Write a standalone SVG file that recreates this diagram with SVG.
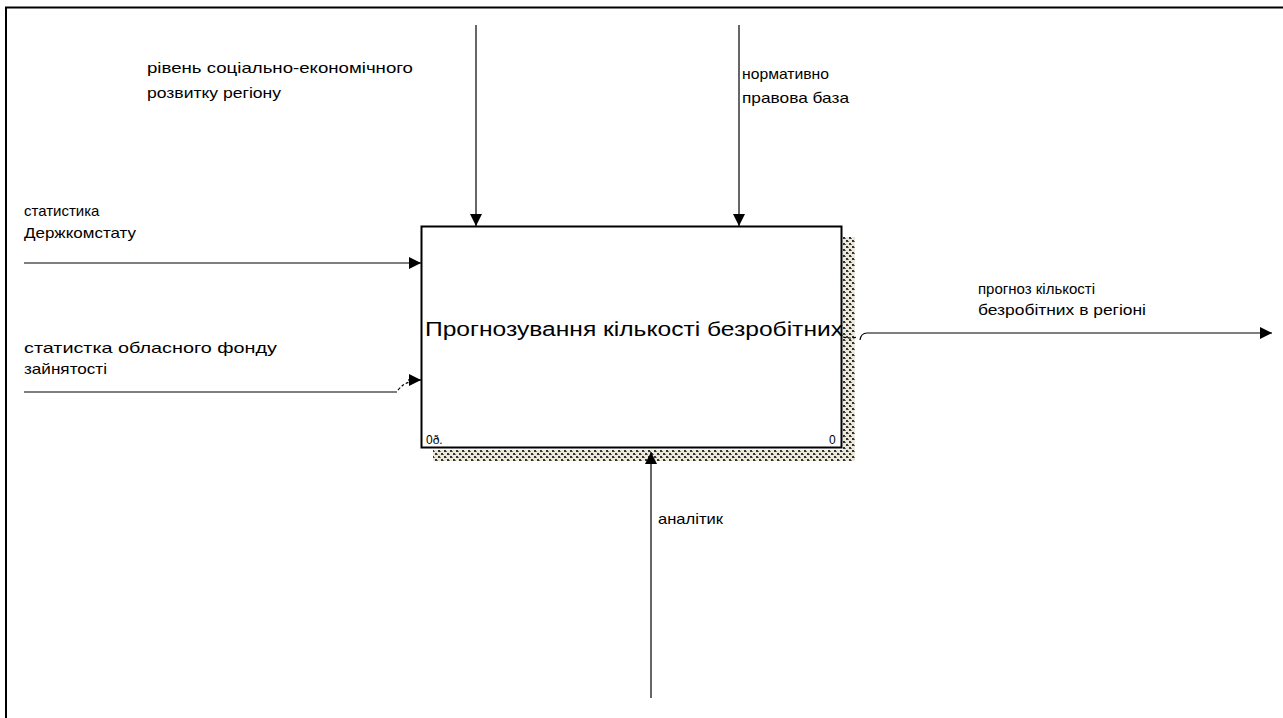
<svg xmlns="http://www.w3.org/2000/svg" width="1283" height="718" viewBox="0 0 1283 718">
  <style>
    .lbl { font-family: "Liberation Sans", Arial, sans-serif; font-size: 15px; fill: #000; }
    .ttl { font-family: "Liberation Sans", Arial, sans-serif; font-size: 20px; fill: #000; }
    .tag { font-family: "Liberation Sans", Arial, sans-serif; font-size: 12px; fill: #000; }
    .arc { stroke: #000; stroke-width: 1.2; fill: none; }
    .tun { stroke: #000; stroke-width: 1.2; fill: none; stroke-dasharray: 3 2; }
  </style>
  <defs>
    <pattern id="hatch" width="6" height="6" patternUnits="userSpaceOnUse">
      <rect width="6" height="6" fill="#ece8da"/>
      <rect x="0" y="0" width="2" height="2" fill="#333"/>
      <rect x="3" y="3" width="2" height="2" fill="#333"/>
      <rect x="2" y="1" width="1" height="1" fill="#777"/>
      <rect x="5" y="4" width="1" height="1" fill="#777"/>
    </pattern>
    <marker id="arrow" viewBox="0 0 10 10" refX="10" refY="5" markerWidth="12" markerHeight="12" markerUnits="userSpaceOnUse" orient="auto">
      <path d="M0,0 L10,5 L0,10 z" fill="#000"/>
    </marker>
  </defs>

  <rect width="1283" height="718" fill="#fff"/>
  <!-- page frame -->
  <path d="M6,718 V7.5 H1283" fill="none" stroke="#000" stroke-width="2"/>

  <!-- activity box -->
  <g id="node-a0">
    <rect x="843" y="237" width="12" height="224" fill="url(#hatch)"/>
    <rect x="433" y="450" width="422" height="11" fill="url(#hatch)"/>
    <rect x="421.5" y="226.5" width="420" height="221" fill="#fff" stroke="#000" stroke-width="2"/>
    <text class="ttl" x="425" y="336" textLength="418" lengthAdjust="spacingAndGlyphs">Прогнозування кількості безробітних</text>
    <text class="tag" x="426" y="444">0ð.</text>
    <text class="tag" x="829" y="444">0</text>
  </g>

  <!-- labels -->
  <g id="label-level">
    <text class="lbl" x="147" y="73" textLength="266" lengthAdjust="spacingAndGlyphs">рівень соціально-економічного</text>
    <text class="lbl" x="147" y="98" textLength="134" lengthAdjust="spacingAndGlyphs">розвитку регіону</text>
  </g>
  <g id="label-law">
    <text class="lbl" x="742" y="79" textLength="87" lengthAdjust="spacingAndGlyphs">нормативно</text>
    <text class="lbl" x="742" y="103" textLength="107" lengthAdjust="spacingAndGlyphs">правова база</text>
  </g>
  <g id="label-stat">
    <text class="lbl" x="24" y="216">статистика</text>
    <text class="lbl" x="24" y="238" textLength="112" lengthAdjust="spacingAndGlyphs">Держкомстату</text>
  </g>
  <g id="label-fund">
    <text class="lbl" x="24" y="353" textLength="253" lengthAdjust="spacingAndGlyphs">статистка обласного фонду</text>
    <text class="lbl" x="24" y="374" textLength="83" lengthAdjust="spacingAndGlyphs">зайнятості</text>
  </g>
  <g id="label-forecast">
    <text class="lbl" x="978" y="294">прогноз кількості</text>
    <text class="lbl" x="978" y="315" textLength="168" lengthAdjust="spacingAndGlyphs">безробітних в регіоні</text>
  </g>
  <g id="label-analyst">
    <text class="lbl" x="658" y="524" textLength="65" lengthAdjust="spacingAndGlyphs">аналітик</text>
  </g>

  <!-- connectors -->
  <g id="connectors">
    <line class="arc" x1="476" y1="25" x2="476" y2="226" marker-end="url(#arrow)"/>
    <line class="arc" x1="739" y1="25" x2="739" y2="226" marker-end="url(#arrow)"/>
    <line class="arc" x1="24" y1="263" x2="421" y2="263" marker-end="url(#arrow)"/>
    <!-- tunnelled input -->
    <line class="arc" x1="24" y1="392" x2="397" y2="392"/>
    <path class="tun" d="M398,390 Q404,383 410,382"/>
    <line class="arc" x1="408" y1="380" x2="421" y2="380" marker-end="url(#arrow)"/>
    <!-- tunnelled output -->
    <path class="tun" d="M843,337 Q850,339 857,337"/>
    <path class="arc" d="M860,340 Q861,333 867,333 H1272" marker-end="url(#arrow)"/>
    <!-- mechanism -->
    <line class="arc" x1="651" y1="698" x2="651" y2="452" marker-end="url(#arrow)"/>
  </g>
</svg>
